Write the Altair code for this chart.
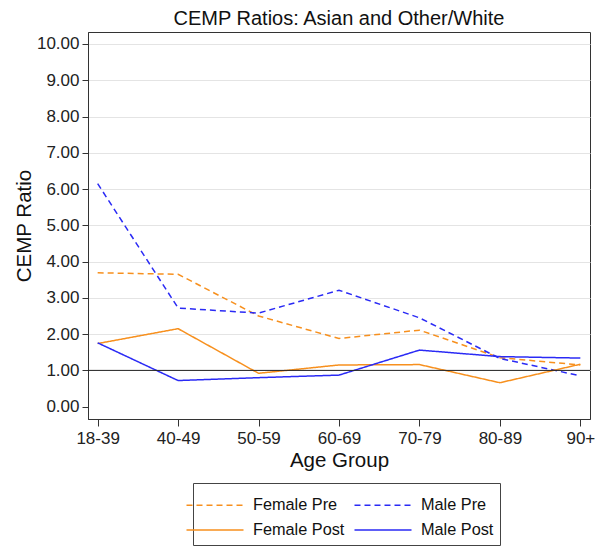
import altair as alt
import pandas as pd

ages = ["18-39", "40-49", "50-59", "60-69", "70-79", "80-89", "90+"]
female_pre = [3.69, 3.65, 2.50, 1.88, 2.11, 1.35, 1.15]
male_pre = [6.15, 2.72, 2.58, 3.21, 2.45, 1.33, 0.85]
female_post = [1.74, 2.15, 0.92, 1.15, 1.16, 0.66, 1.17]
male_post = [1.76, 0.72, 0.80, 0.87, 1.56, 1.38, 1.34]
reference_line = [1.0]

series_names = ["Female Pre", "Male Pre", "Female Post", "Male Post"]
series_vals = [female_pre, male_pre, female_post, male_post]
colors = ["#F7901E", "#2A2AF5", "#F7901E", "#2A2AF5"]
dashes = [[6, 4], [6, 4], [1, 0], [1, 0]]

rows = []
for name, vals in zip(series_names, series_vals):
    for a, v in zip(ages, vals):
        rows.append({"age": a, "ratio": v, "series": name})
df = pd.DataFrame(rows)

FONT = "Liberation Sans"

x_enc = alt.X("age:N", sort=ages, scale=alt.Scale(type="point", padding=0.12),
              axis=alt.Axis(title="Age Group", labelAngle=0, labelFontSize=17,
                            titleFontSize=20.5, titleFontWeight="normal",
                            tickSize=7, labelPadding=4, titlePadding=4,
                            grid=False, domainColor="#333", tickColor="#333",
                            labelColor="#222", titleColor="#111"))
y_axis = alt.Axis(title="CEMP Ratio", values=list(range(0, 11)), format=".2f",
                  labelFontSize=17, titleFontSize=20.5, titleFontWeight="normal",
                  tickSize=6, labelPadding=3, titlePadding=2,
                  grid=True, gridColor="#e4e4e4",
                  gridOpacity={"condition": {"test": "datum.value == 0", "value": 0}, "value": 1},
                  domainColor="#333", tickColor="#333", labelOverlap=False,
                  labelColor="#222", titleColor="#111")
y_scale = alt.Scale(domain=[-0.34, 10.33], nice=False, zero=False)

legend_cfg = dict(title=None, orient="none", legendX=105, legendY=451,
                  direction="horizontal", columns=2, strokeColor="#444", padding=6,
                  columnPadding=6, rowPadding=0,
                  symbolType="M-1.9,0H1.9", symbolSize=900,
                  symbolStrokeWidth=1.5, labelFontSize=16.3,
                  labelColor="#111", labelOffset=22)

lines = alt.Chart(df).mark_line(strokeWidth=1.5).encode(
    x=x_enc,
    y=alt.Y("ratio:Q", scale=y_scale, axis=y_axis),
    color=alt.Color("series:N", scale=alt.Scale(domain=series_names, range=colors),
                    legend=alt.Legend(**legend_cfg)),
    strokeDash=alt.StrokeDash("series:N", scale=alt.Scale(domain=series_names, range=dashes),
                              legend=alt.Legend(**legend_cfg)),
)

ref_df = pd.DataFrame({"ratio": reference_line})
ref = alt.Chart(ref_df).mark_rule(color="#222", strokeWidth=1).encode(
    y=alt.Y("ratio:Q", scale=y_scale, axis=y_axis))

chart = alt.layer(lines, ref).properties(
    width=502, height=387,
    title=alt.Title("CEMP Ratios: Asian and Other/White", fontSize=20, fontWeight="normal",
                    font=FONT, color="#111", offset=3),
    autosize=alt.AutoSizeParams(type="none"),
    padding={"left": 80, "top": 24, "right": 5, "bottom": 130},
).configure(font=FONT).configure_view(stroke="#333", strokeWidth=1)

chart.save("out.html", embed_options={"renderer": "svg", "actions": False})
